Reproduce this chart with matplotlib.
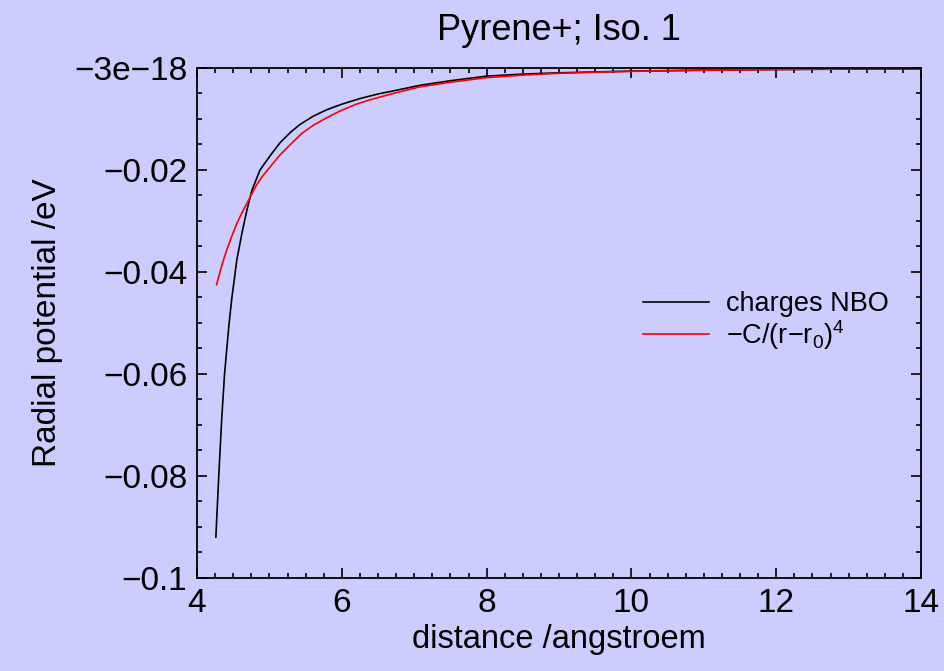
import numpy as np
import matplotlib
matplotlib.use('Agg')
import matplotlib.pyplot as plt
from matplotlib.ticker import MultipleLocator

plt.rcParams['font.family'] = ['Liberation Sans', 'DejaVu Sans']
plt.rcParams['mathtext.fontset'] = 'custom'
plt.rcParams['mathtext.rm'] = 'Liberation Sans'
plt.rcParams['mathtext.it'] = 'Liberation Sans'

# values
r_nbo = [4.26, 4.30, 4.34, 4.38, 4.44, 4.48, 4.55, 4.62, 4.69, 4.76, 4.87, 4.96,
         5.01, 5.15, 5.30, 5.42, 5.60, 5.79, 6.00, 6.25, 6.50, 6.71, 7.08, 7.50,
         8.0, 8.5, 9.0, 9.57, 10.0, 11.0, 12.0, 13.0, 14.0]
v_nbo = [-0.092, -0.080, -0.069, -0.060, -0.0505, -0.0452, -0.0376, -0.0324,
         -0.0278, -0.0239, -0.0200, -0.0182, -0.0172, -0.0146, -0.0125, -0.0111,
         -0.0095, -0.0082, -0.0071, -0.0060, -0.0051, -0.0045, -0.0034, -0.0025,
         -0.0016, -0.0012, -0.00095, -0.00076, -0.00062, -0.00042, -0.00030,
         -0.00022, -0.00017]

r_fit = [4.27, 4.34, 4.41, 4.48, 4.55, 4.62, 4.69, 4.76, 4.82, 4.90, 5.01, 5.15,
         5.29, 5.45, 5.61, 5.80, 5.98, 6.20, 6.40, 6.71, 7.08, 7.50, 8.0, 8.5,
         9.0, 9.57, 10.0, 11.0, 12.0, 13.0, 14.0]
v_fit = [-0.0425, -0.0388, -0.0357, -0.0330, -0.0305, -0.0284, -0.0265, -0.0246,
         -0.0230, -0.0213, -0.0194, -0.0170, -0.0150, -0.0128, -0.0112, -0.0097,
         -0.0084, -0.0071, -0.0062, -0.0050, -0.0037, -0.0028, -0.0019, -0.0014,
         -0.00105, -0.00080, -0.00066, -0.00045, -0.00030, -0.00021, -0.00015]

yticks = [-0.1, -0.08, -0.06, -0.04, -0.02, 0.0]
ylabels = ['\u22120.1', '\u22120.08', '\u22120.06', '\u22120.04', '\u22120.02', '\u22123e\u221218']
xticks = [4, 6, 8, 10, 12, 14]

bg = '#ccccff'
fig = plt.figure(figsize=(9.45, 6.71), dpi=100, facecolor=bg)
ax = fig.add_axes([0.2085, 0.1386, 0.7661, 0.7601], facecolor=bg)

ax.plot(r_nbo, v_nbo, color='k', lw=1.2, label='charges NBO')
ax.plot(r_fit, v_fit, color='red', lw=1.2, label='\u2212C/(r\u2212r$_0$)$^4$')

ax.set_xlim(4, 14)
ax.set_ylim(-0.1, 0)
ax.set_xticks(xticks)
ax.set_xticklabels([str(t) for t in xticks])
ax.set_yticks(yticks)
ax.set_yticklabels(ylabels)
ax.xaxis.set_minor_locator(MultipleLocator(0.25))
ax.yaxis.set_minor_locator(MultipleLocator(0.005))
ax.tick_params(which='both', direction='in', top=True, right=True, labelsize=24, width=1.2)
ax.tick_params(which='major', length=7, pad=7)
ax.tick_params(which='minor', length=3.5)
for s in ax.spines.values():
    s.set_linewidth(1.3)

ax.set_title('Pyrene+; Iso. 1', fontsize=26, pad=20)
ax.set_xlabel('distance /angstroem', fontsize=23.5, labelpad=4)
ax.set_ylabel('Radial potential /eV', fontsize=24, labelpad=8)

ax.legend(loc='center left', bbox_to_anchor=(0.616, 0.503), frameon=False, fontsize=19.5,
          handlelength=2.45, handletextpad=0.6, labelspacing=0.02,
          borderpad=0, borderaxespad=0)

plt.savefig('out.png', facecolor=bg)
